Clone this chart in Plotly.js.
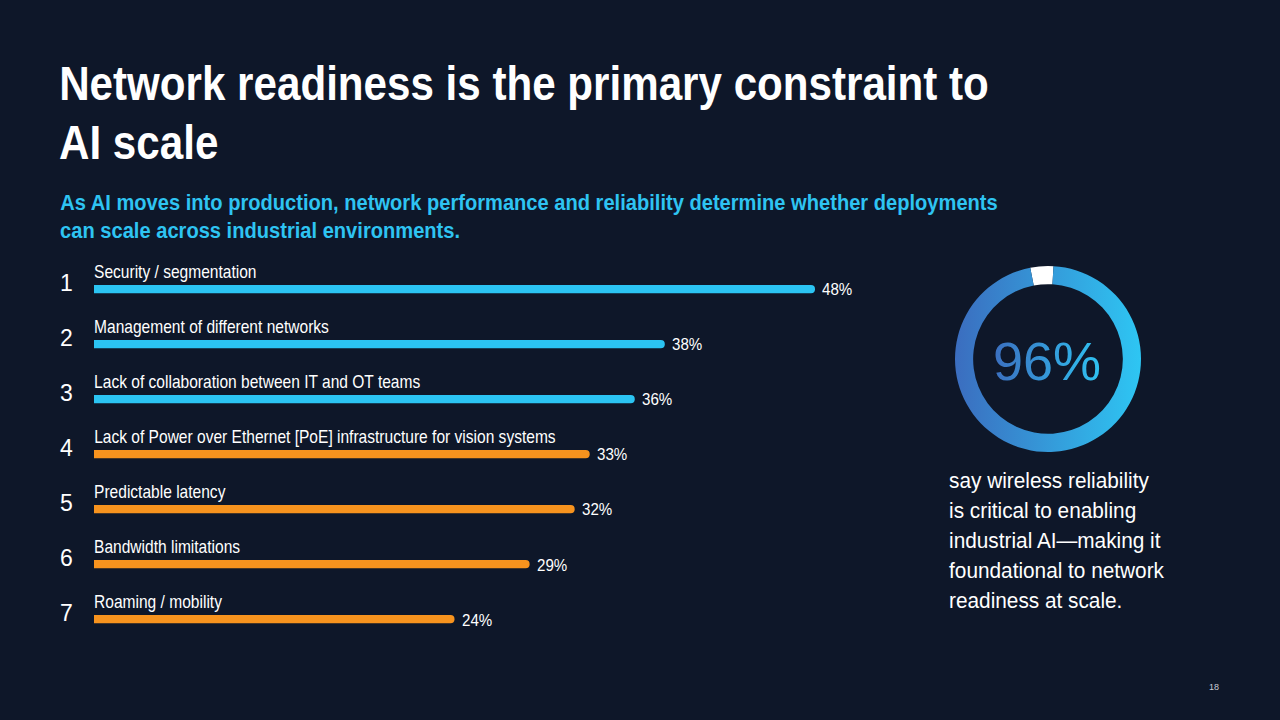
<!DOCTYPE html>
<html>
<head>
<meta charset="utf-8">
<script src="https://cdn.plot.ly/plotly-3.0.1.min.js"></script>
<style>
html,body{margin:0;padding:0;background:#0e1729;}
#chart{width:1280px;height:720px;}
</style>
</head>
<body>
<div id="chart"></div>
<script>
// ---- data ----
const ranks = [1, 2, 3, 4, 5, 6, 7];
const categories = [
  "Security / segmentation",
  "Management of different networks",
  "Lack of collaboration between IT and OT teams",
  "Lack of Power over Ethernet [PoE] infrastructure for vision systems",
  "Predictable latency",
  "Bandwidth limitations",
  "Roaming / mobility"
];
const values = [48, 38, 36, 33, 32, 29, 24];
const groupColors = ["#2bc4f3", "#2bc4f3", "#2bc4f3", "#f7931e", "#f7931e", "#f7931e", "#f7931e"];
const donutValues = [4, 96];
const donutLabel = "96%";
const titleLines = ["Network readiness is the primary constraint to", "AI scale"];
const subtitleLines = [
  "As AI moves into production, network performance and reliability determine whether deployments",
  "can scale across industrial environments."
];
const sideLines = [
  "say wireless reliability",
  "is critical to enabling",
  "industrial AI\u2014making it",
  "foundational to network",
  "readiness at scale."
];
const pageNumber = "18";

// ---- layout helpers ----
const W = 1280, H = 720;
const px = x => x / W;
const py = y => 1 - y / H;
const SANS = "'Liberation Sans', Arial, Helvetica, sans-serif";
const BG = "#0e1729";

const barTrace = {
  type: "bar",
  orientation: "h",
  x: values,
  y: ranks,
  width: 0.15,
  marker: {color: groupColors, cornerradius: 4, line: {width: 0}},
  hoverinfo: "skip",
  xaxis: "x", yaxis: "y"
};

const donut = {
  type: "pie",
  values: donutValues,
  labels: ["rest", "yes"],
  sort: false,
  direction: "clockwise",
  rotation: -11,
  hole: 0.805,
  marker: {colors: ["#ffffff", "#3a8fd6"], line: {width: 0}},
  textinfo: "none",
  hoverinfo: "skip",
  showlegend: false,
  domain: {x: [px(955), px(1141)], y: [py(452), py(266)]}
};

const ann = [];
titleLines.forEach((t, i) => ann.push({
  name: "title" + i, text: t, xref: "paper", yref: "paper", x: px(57), y: py(83 + i * 59),
  xanchor: "left", yanchor: "middle", showarrow: false,
  font: {family: SANS, size: 49, color: "#ffffff", weight: "bold"}
}));
subtitleLines.forEach((t, i) => ann.push({
  name: "sub" + i, text: t, xref: "paper", yref: "paper", x: px(58), y: py(202 + i * 29),
  xanchor: "left", yanchor: "middle", showarrow: false,
  font: {family: SANS, size: 22.5, color: "#2ec4f2", weight: "bold"}
}));
sideLines.forEach((t, i) => ann.push({
  name: "side" + i, text: t, xref: "paper", yref: "paper", x: px(947), y: py(480 + i * 30),
  xanchor: "left", yanchor: "middle", showarrow: false,
  font: {family: SANS, size: 22, color: "#ffffff"}
}));
ranks.forEach((r, i) => {
  ann.push({
    name: "rank" + i, text: String(r), xref: "paper", yref: "y", x: px(66), y: r, yshift: 6,
    xanchor: "center", yanchor: "middle", showarrow: false,
    font: {family: SANS, size: 23, color: "#ffffff"}
  });
  ann.push({
    name: "cat" + i, text: categories[i], xref: "x", yref: "y", x: 0, y: r, xshift: -2, yshift: 17,
    xanchor: "left", yanchor: "middle", showarrow: false,
    font: {family: SANS, size: 17.5, color: "#ffffff"}
  });
  ann.push({
    name: "val" + i, text: values[i] + "%", xref: "x", yref: "y", x: values[i], y: r, xshift: 5, yshift: -1,
    xanchor: "left", yanchor: "middle", showarrow: false,
    font: {family: SANS, size: 17, color: "#ffffff"}
  });
});
ann.push({
  name: "donut", text: donutLabel, xref: "paper", yref: "paper", x: px(1047), y: py(361),
  xanchor: "center", yanchor: "middle", showarrow: false,
  font: {family: SANS, size: 54, color: "#3a8fd6"}
});
ann.push({
  name: "page", text: pageNumber, xref: "paper", yref: "paper", x: px(1214), y: py(687),
  xanchor: "center", yanchor: "middle", showarrow: false,
  font: {family: SANS, size: 9, color: "#c8ccd4"}
});

const layout = {
  width: W, height: H,
  paper_bgcolor: BG, plot_bgcolor: BG,
  margin: {l: 0, r: 0, t: 0, b: 0},
  showlegend: false,
  xaxis: {domain: [px(94), px(815)], range: [0, 48], visible: false, fixedrange: true},
  yaxis: {domain: [py(646.5), py(261.5)], range: [7.5, 0.5], visible: false, fixedrange: true},
  annotations: ann
};

Plotly.newPlot("chart", [barTrace, donut], layout, {staticPlot: true}).then(gd => {
  const svg = gd.querySelector("svg.main-svg");
  const NS = "http://www.w3.org/2000/svg";
  let defs = svg.querySelector("defs");
  if (!defs) { defs = document.createElementNS(NS, "defs"); svg.insertBefore(defs, svg.firstChild); }
  function grad(id, c1, c2) {
    const g = document.createElementNS(NS, "linearGradient");
    g.setAttribute("id", id);
    g.setAttribute("x1", "0"); g.setAttribute("y1", "0");
    g.setAttribute("x2", "1"); g.setAttribute("y2", "0");
    [[0, c1], [1, c2]].forEach(([o, c]) => {
      const s = document.createElementNS(NS, "stop");
      s.setAttribute("offset", o); s.setAttribute("stop-color", c);
      g.appendChild(s);
    });
    defs.appendChild(g);
  }
  grad("ringGrad", "#3b6dbf", "#2ec6f3");
  grad("textGrad", "#3b6fc0", "#2fc2f1");
  const slices = gd.querySelectorAll(".slice path.surface");
  if (slices.length > 1) slices[1].style.fill = "url(#ringGrad)";

  // map annotation names to their text nodes
  const textByName = {};
  gd.querySelectorAll("g.annotation").forEach(g => {
    const idx = +g.getAttribute("data-index");
    const a = gd.layout.annotations[idx];
    const t = g.querySelector("text.annotation-text");
    if (a && t) textByName[a.name] = t;
  });
  if (textByName.donut) textByName.donut.style.fill = "url(#textGrad)";

  // condensed typeface look: horizontal squeeze about the left edge
  function squeeze(t, sx) {
    const b = t.getBBox();
    t.setAttribute("transform", `translate(${b.x},0) scale(${sx},1) translate(${-b.x},0)`);
  }
  function factor(name, target) {
    const t = textByName[name];
    return t ? target / t.getBBox().width : 0.8;
  }
  const fTitle = factor("title0", 930);
  const fSub = factor("sub0", 938);
  const fSide = factor("side3", 216);
  const fCat = factor("cat3", 462);
  Object.keys(textByName).forEach(n => {
    const t = textByName[n];
    if (n.startsWith("title")) squeeze(t, fTitle);
    else if (n.startsWith("sub")) squeeze(t, fSub);
    else if (n.startsWith("side")) squeeze(t, fSide);
    else if (n.startsWith("cat") || n.startsWith("val")) squeeze(t, fCat);
  });
});
</script>
</body>
</html>
